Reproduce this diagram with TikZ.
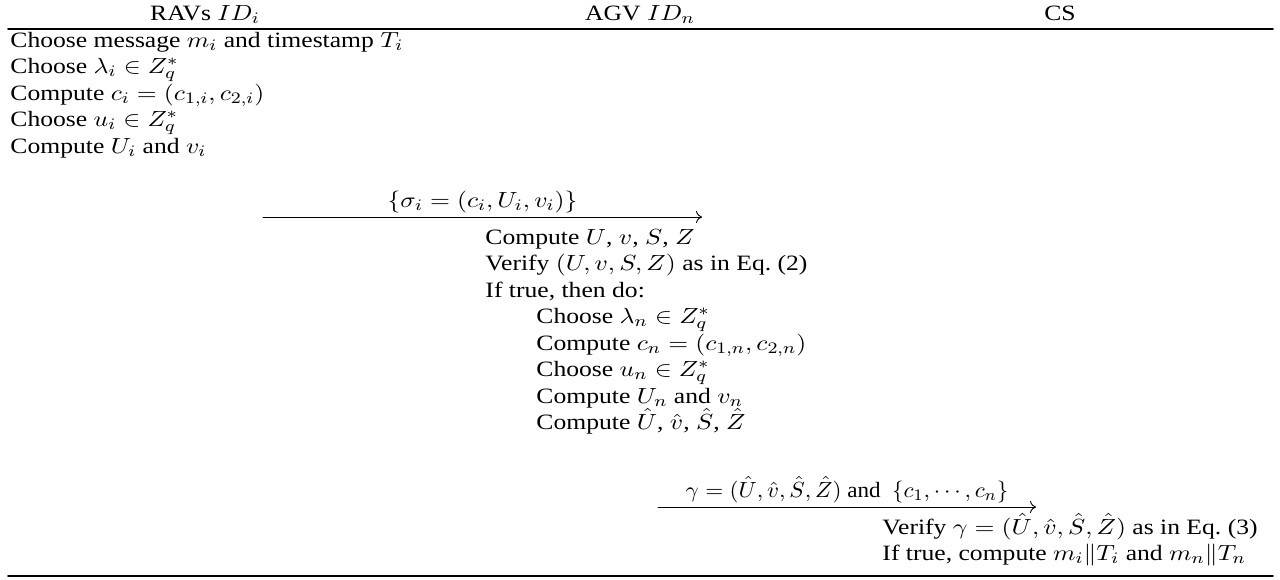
\documentclass[tikz,border=0pt]{standalone}
\usepackage{fontspec}
\setmainfont{Liberation Serif}
\usetikzlibrary{arrows.meta}

\begin{document}
\begin{tikzpicture}[x=0.5pt,y=-0.5pt,line cap=round,line join=round]
  \tikzset{
    row/.style={anchor=base west,inner sep=0pt,xscale=1.17,font=\fontsize{10.95}{13}\selectfont},
    head/.style={row,anchor=base},
    msg/.style={line width=0.45pt,-{To[length=3pt,width=6pt]}}
  }
  \useasboundingbox (0,0) rectangle (1280,579);
  \def\dy{26.5}
  % column heads
  \node[head] (hravs) at (205,20) {RAVs $ID_i$};
  \node[head] (hagv) at (640,20) {AGV $ID_n$};
  \node[head] (hcs) at (1060,20) {CS};
  \draw[line width=0.8pt] (8,29) -- (1273,29);
  % RAVs side
  \foreach \t [count=\k] in {{Choose message $m_i$ and timestamp $T_i$},
      {Choose $\lambda_i \in Z_q^*$},{Compute $c_i=(c_{1,i},c_{2,i})$},
      {Choose $u_i \in Z_q^*$},{Compute $U_i$ and $v_i$}}
    \node[row] (ravs\k) at (10,{47+(\k-1)*\dy}) {\t};
  \coordinate (sig0) at (263,217);
  \coordinate (sig1) at (702,217);
  \draw[msg] (sig0) -- (sig1)
    node[head,pos=0.5,yshift=5pt] (sig) {$\{\sigma_i=(c_i,U_i,v_i)\}$};
  % AGV side
  \foreach \t [count=\k] in {{Compute $U$, $v$, $S$, $Z$},
      {Verify $(U,v,S,Z)$ as in Eq.~(2)},{If true, then do:}}
    \node[row] (agv\k) at (485,{244+(\k-1)*\dy}) {\t};
  \foreach \t [count=\k] in {{Choose $\lambda_n \in Z_q^*$},
      {Compute $c_n=(c_{1,n},c_{2,n})$},{Choose $u_n \in Z_q^*$},
      {Compute $U_n$ and $v_n$},{Compute $\hat{U}$, $\hat{v}$, $\hat{S}$, $\hat{Z}$}}
    \node[row] (do\k) at (536,{244+(\k+2)*\dy}) {\t};
  \coordinate (gam0) at (658,507);
  \coordinate (gam1) at (1036,507);
  \draw[msg] (gam0) -- (gam1)
    node[head,xscale=0.9,pos=0.5,yshift=5pt] (gam)
    {$\gamma=(\hat{U},\hat{v},\hat{S},\hat{Z})$ and\ \ $\{c_1,\cdots,c_n\}$};
  % CS side
  \node[row] (cs1) at (882,534) {Verify $\gamma=(\hat{U},\hat{v},\hat{S},\hat{Z})$ as in Eq.~(3)};
  \node[row] (cs2) at (882,560.5) {If true, compute $m_i\|T_i$ and $m_n\|T_n$};
  \draw[line width=0.8pt] (8,576) -- (1273,576);
\end{tikzpicture}
\end{document}
